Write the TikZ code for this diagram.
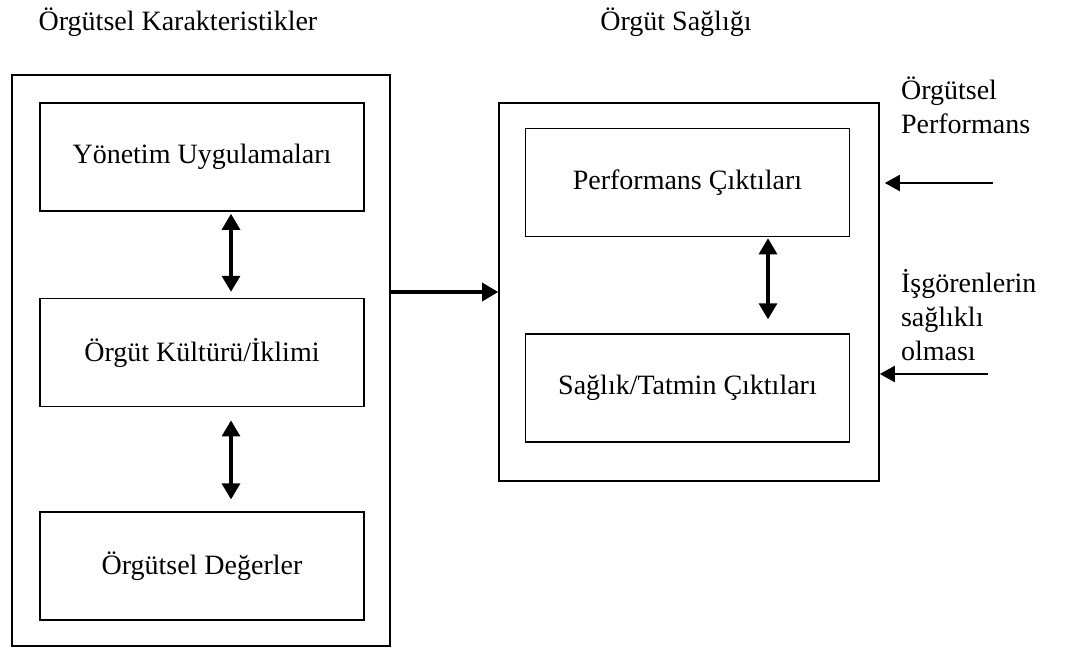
\documentclass[tikz,border=0pt]{standalone}
\usepackage{fontspec}
\setmainfont{Liberation Serif}
\usetikzlibrary{arrows.meta,positioning}

\begin{document}
\begin{tikzpicture}[x=0.5pt, y=-0.5pt,
    font=\fontsize{14}{16.8}\selectfont,
    frame/.style={draw, line width=0.8pt, inner sep=0pt},
    box/.style={draw, line width=0.8pt, minimum width=162pt, minimum height=54pt, inner sep=0pt},
    dbl/.style={{Triangle[length=8pt,width=9pt]}-{Triangle[length=8pt,width=9pt]}, line width=1.6pt},
    arr/.style={-{Triangle[length=8pt,width=9pt]}, line width=1.6pt},
    inarr/.style={-{Triangle[length=7.5pt,width=8pt]}, line width=1pt}]
  \useasboundingbox (0,0) rectangle (1065,650);

  % titles
  \node (titleL) at (178,22) {Örgütsel Karakteristikler};
  \node (titleR) at (676,22) {Örgüt Sağlığı};

  % left side
  \node[frame, minimum width=189pt, minimum height=285.5pt] (outL) at (201,360.5) {};
  \node[box] (yon) at (202,157) {Yönetim Uygulamaları};
  \node[box, below=43pt of yon] (kul) {Örgüt Kültürü/İklimi};
  \node[box, below=52pt of kul] (deg) {Örgütsel Değerler};

  \draw[dbl, shorten <=1pt, shorten >=3pt] ([xshift=14.5pt]yon.south) -- ([xshift=14.5pt]kul.north);
  \draw[dbl, shorten <=6.5pt, shorten >=6pt] ([xshift=14.5pt]kul.south) -- ([xshift=14.5pt]deg.north);

  % right side
  \node[frame, minimum width=190pt, minimum height=189pt] (outR) at (689,292) {};
  \node[box] (perf) at (687.5,182.5) {Performans Çıktıları};
  \node[box, below=48pt of perf] (sag) {Sağlık/Tatmin Çıktıları};

  \draw[dbl, shorten <=0.5pt, shorten >=7pt] ([xshift=40.25pt]perf.south) -- ([xshift=40.25pt]sag.north);

  \draw[arr] (outL.east |- outR.west) -- (outR.west);

  % outside inputs
  \node[anchor=west, align=left] (orgperf) at (894,105) {Örgütsel\\Performans};
  \node[anchor=west, align=left] (isg) at (894,315) {İşgörenlerin\\sağlıklı\\olması};

  \coordinate (inA) at (993,183);
  \coordinate (inB) at (988,374);
  \draw[inarr, shorten >=2.5pt] (inA) -- (inA -| outR.east);
  \draw[inarr] (inB) -- (inB -| outR.east);
\end{tikzpicture}
\end{document}
